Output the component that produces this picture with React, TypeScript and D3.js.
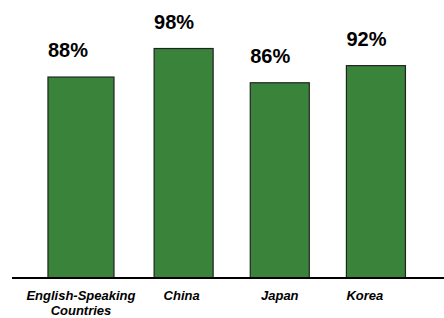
import React from 'react';
import * as d3 from 'd3';

const categories = ['English-Speaking Countries', 'China', 'Japan', 'Korea'];
const values = [88, 98, 86, 92];
const valueLabels = ['88%', '98%', '86%', '92%'];

const W = 444;
const H = 318;
const baseY = 278;

export default function App() {
  const x = d3.scaleBand<string>()
    .domain(categories)
    .range([39.4, 424])
    .paddingInner(0.386)
    .paddingOuter(0.193);

  // bar tops in the original are not anchored at zero
  const y = d3.scaleLinear().domain([17.6, 100]).range([baseY, 42.8]);
  const bw = x.bandwidth();

  // first bar is drawn wider in the original, Korea label sits left
  const barLeft = (c: string, i: number) => (x(c) || 0) - (i === 0 ? 10 : 0);
  const barWidth = (i: number) => bw + (i === 0 ? 7 : 0);
  const labelNudge: Record<string, number> = { Korea: -11, China: -2 };

  return (
    <svg width={W} height={H} style={{ position: 'absolute', left: 0, top: 0 }}>
      {categories.map((c, i) => (
        <g key={c}>
          <rect
            x={barLeft(c, i)}
            y={y(values[i])}
            width={barWidth(i)}
            height={baseY - y(values[i])}
            fill="#3a833a"
            stroke="#222"
            strokeWidth={1.2}
          />
          <text
            x={barLeft(c, i)}
            y={y(values[i]) - 20}
            fontFamily="Liberation Sans, Arial, sans-serif"
            fontWeight="bold"
            fontSize={20}
            fill="#000"
          >
            {valueLabels[i]}
          </text>
        </g>
      ))}
      <line x1={12} x2={W} y1={baseY} y2={baseY} stroke="#000" strokeWidth={2} />
      {categories.map((c, i) => {
        const cx = barLeft(c, i) + barWidth(i) / 2 + (labelNudge[c] || 0);
        const lines = c === 'English-Speaking Countries' ? ['English-Speaking', 'Countries'] : [c];
        return (
          <text
            key={c}
            x={cx}
            y={300}
            textAnchor="middle"
            fontFamily="Liberation Sans, Arial, sans-serif"
            fontWeight="bold"
            fontStyle="italic"
            fontSize={13}
            fill="#000"
          >
            {lines.map((l, j) => (
              <tspan key={l} x={cx} dy={j === 0 ? 0 : 15}>{l}</tspan>
            ))}
          </text>
        );
      })}
    </svg>
  );
}
